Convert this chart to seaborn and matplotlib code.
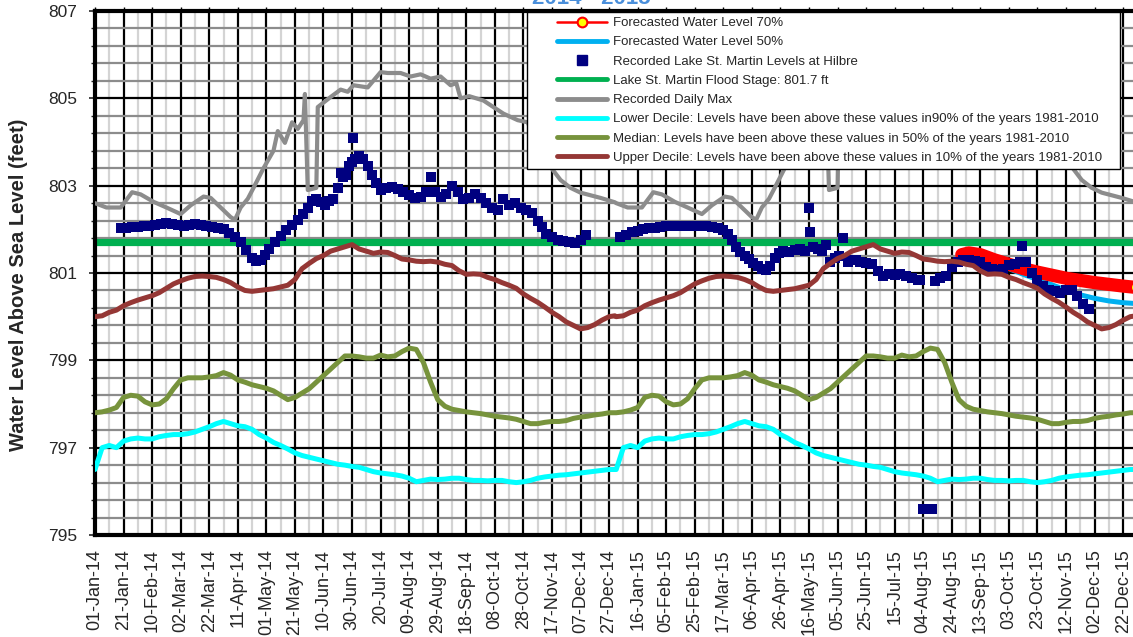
import pandas as pd
import matplotlib
matplotlib.use("Agg")
import matplotlib.pyplot as plt
import matplotlib.dates as mdates
from matplotlib.lines import Line2D
from matplotlib.legend_handler import HandlerLine2D
from matplotlib.ticker import FixedLocator, FormatStrFormatter
import seaborn as sns

# ---------------------------------------------------------------- data
START = pd.Timestamp("2014-01-01")
END = pd.Timestamp("2015-12-31")
YEARS = [2014, 2015]

# 1981-2010 statistics by day of year
CLIM_DOY = list(range(0, 361, 5)) + [364]
LOWER_DECILE = [
    796.5, 797.0, 797.05, 797.0, 797.15, 797.2, 797.22, 797.2, 797.2, 797.25,
    797.28, 797.3, 797.3, 797.32, 797.36, 797.42, 797.48, 797.55, 797.6, 797.55,
    797.5, 797.48, 797.42, 797.3, 797.22, 797.12, 797.05, 796.97, 796.88, 796.82,
    796.78, 796.74, 796.7, 796.66, 796.62, 796.6, 796.57, 796.55, 796.5, 796.45,
    796.42, 796.4, 796.38, 796.35, 796.3, 796.22, 796.25, 796.28, 796.27, 796.28,
    796.3, 796.3, 796.27, 796.25, 796.25, 796.24, 796.25, 796.25, 796.22, 796.2,
    796.22, 796.25, 796.3, 796.33, 796.35, 796.37, 796.38, 796.4, 796.42, 796.44,
    796.46, 796.48, 796.5, 796.5]
MEDIAN = [
    797.8, 797.82, 797.86, 797.92, 798.15, 798.2, 798.18, 798.05, 797.98, 798.0,
    798.12, 798.35, 798.55, 798.6, 798.6, 798.6, 798.62, 798.65, 798.72, 798.66,
    798.55, 798.5, 798.44, 798.4, 798.36, 798.3, 798.2, 798.1, 798.15, 798.25,
    798.35, 798.5, 798.65, 798.8, 798.95, 799.1, 799.1, 799.08, 799.05, 799.05,
    799.12, 799.08, 799.1, 799.2, 799.28, 799.25, 798.95, 798.5, 798.1, 797.95,
    797.88, 797.85, 797.82, 797.8, 797.78, 797.75, 797.72, 797.7, 797.68, 797.65,
    797.6, 797.55, 797.55, 797.58, 797.6, 797.6, 797.62, 797.67, 797.7, 797.72,
    797.75, 797.77, 797.8, 797.8]
UPPER_DECILE = [
    800.0, 800.02, 800.1, 800.15, 800.25, 800.32, 800.38, 800.43, 800.48, 800.55,
    800.65, 800.75, 800.82, 800.88, 800.92, 800.93, 800.92, 800.9, 800.85, 800.78,
    800.68, 800.6, 800.58, 800.6, 800.62, 800.64, 800.68, 800.72, 800.85, 801.1,
    801.22, 801.33, 801.4, 801.5, 801.55, 801.6, 801.65, 801.55, 801.5, 801.45,
    801.48, 801.47, 801.4, 801.32, 801.3, 801.27, 801.26, 801.27, 801.25, 801.2,
    801.17, 801.05, 800.97, 800.98, 800.97, 800.9, 800.85, 800.78, 800.72, 800.65,
    800.52, 800.42, 800.33, 800.22, 800.1, 800.0, 799.88, 799.8, 799.72, 799.75,
    799.82, 799.92, 800.0, 800.02]

# recorded daily maximum by day of year
DAILY_MAX_DOY = [0, 8, 18, 26, 32, 41, 50, 60, 67, 76,
                 81, 88, 95, 98, 102, 107, 111, 118, 125, 128,
                 133, 138, 142, 146, 147, 149, 155, 156, 165, 172,
                 177, 181, 191, 200, 205, 214, 221, 228, 235, 242,
                 249, 253, 256, 262, 272, 279, 286, 296, 303, 312,
                 319, 326, 333, 340, 354, 364]
DAILY_MAX = [802.6, 802.5, 802.5, 802.85, 802.8, 802.63, 802.5, 802.35, 802.55, 802.75,
             802.72, 802.5, 802.28, 802.22, 802.5, 802.7, 802.95, 803.4, 803.8, 804.25,
             803.98, 804.45, 804.3, 804.5, 805.1, 802.9, 802.95, 804.8, 805.03, 805.2,
             805.15, 805.3, 805.25, 805.6, 805.58, 805.58, 805.5, 805.55, 805.45, 805.5,
             805.3, 805.35, 805.0, 805.05, 804.95, 804.8, 804.65, 804.5, 804.45, 803.8,
             803.43, 803.13, 802.95, 802.84, 802.72, 802.62]

# Lake St. Martin at Hilbre, days after 1 Jan 2014
HILBRE_DAY = [
    18, 22, 26, 30, 34, 38, 42, 46, 50, 54, 58, 62, 66, 70, 74, 78, 82, 86, 90, 94,
    98, 102, 106, 110, 113, 116, 119, 122, 126, 130, 134, 138, 142, 146, 149, 152,
    155, 158, 161, 164, 167, 170, 172, 174, 176, 178, 180, 181, 182, 185, 188, 191,
    194, 197, 200, 204, 208, 212, 216, 220, 224, 228, 232, 235, 238, 242, 246, 250,
    254, 258, 262, 266, 270, 274, 278, 282, 286, 290, 294, 298, 302, 306, 310, 313,
    316, 320, 324, 328, 332, 336, 340, 344,
    368, 372, 376, 380, 384, 388, 392, 396, 400, 404, 408, 412, 416, 420, 424, 428,
    432, 436, 440, 443, 446, 449, 452, 455, 458, 461, 464, 467, 470, 473, 476, 479,
    482, 486, 490, 494, 497, 500, 501, 503, 506, 509, 512, 515, 518, 521, 524, 527,
    530, 533, 536, 540, 544, 548, 552, 556, 560, 564, 568, 572, 576, 578, 580, 583,
    586, 588, 592, 596, 600, 604, 608, 612, 616, 620, 624, 628, 632, 636, 640, 644,
    648, 649, 652, 656, 660, 664, 668, 672, 676, 680, 684, 688, 692, 696]
HILBRE_FT = [
    802.03, 802.04, 802.05, 802.06, 802.07, 802.08, 802.1, 802.13, 802.15, 802.12,
    802.1, 802.08, 802.1, 802.12, 802.1, 802.08, 802.06, 802.04, 802.0, 801.92,
    801.82, 801.7, 801.52, 801.35, 801.28, 801.3, 801.42, 801.55, 801.7, 801.85,
    801.98, 802.1, 802.22, 802.35, 802.5, 802.65, 802.7, 802.62, 802.55, 802.65,
    802.7, 802.95, 803.3, 803.2, 803.25, 803.45, 803.55, 804.1, 803.6, 803.68,
    803.6, 803.45, 803.25, 803.05, 802.9, 802.95, 802.97, 802.92, 802.85, 802.78,
    802.72, 802.75, 802.85, 803.2, 802.85, 802.75, 802.8, 803.0, 802.85, 802.7,
    802.72, 802.8, 802.72, 802.6, 802.5, 802.45, 802.7, 802.55, 802.6, 802.5,
    802.45, 802.37, 802.2, 802.05, 801.9, 801.82, 801.76, 801.74, 801.7, 801.68,
    801.75, 801.88,
    801.83, 801.88, 801.93, 801.97, 802.0, 802.02, 802.04, 802.06, 802.07, 802.08,
    802.08, 802.08, 802.08, 802.08, 802.08, 802.07, 802.06, 802.04, 801.99, 801.9,
    801.75, 801.6, 801.48, 801.4, 801.32, 801.22, 801.15, 801.1, 801.08, 801.15,
    801.35, 801.45, 801.5, 801.48, 801.53, 801.55, 801.5, 802.5, 801.95, 801.6,
    801.55, 801.5, 801.65, 801.25, 801.35, 801.4, 801.8, 801.25, 801.3, 801.3,
    801.25, 801.22, 801.2, 801.05, 800.92, 800.98, 800.95, 800.98, 800.92, 800.88,
    800.85, 800.85, 795.6, 795.6, 795.6, 800.82, 800.88, 800.92, 801.14, 801.25,
    801.3, 801.3, 801.28, 801.25, 801.14, 801.1, 801.07, 801.1, 801.18, 801.2,
    801.25, 801.62, 801.25, 801.0, 800.85, 800.7, 800.62, 800.58, 800.55, 800.6,
    800.62, 800.48, 800.28, 800.18]

# forecasts, days after 1 Jan 2014
FCST_DAY = [607, 612, 620, 630, 640, 650, 660, 670, 680, 690, 700, 710, 720, 729]
FCST_70 = [801.42, 801.46, 801.42, 801.3, 801.2, 801.1, 801.02, 800.95, 800.88,
           800.83, 800.78, 800.74, 800.7, 800.67]
FCST_50 = [801.42, 801.45, 801.38, 801.25, 801.1, 800.97, 800.85, 800.73, 800.61,
           800.5, 800.42, 800.36, 800.32, 800.3]

FLOOD_STAGE = 801.7

Y_TICKS = [795, 797, 799, 801, 803, 805, 807]

LABELS = [
    "Forecasted Water Level 70%",
    "Forecasted Water Level 50%",
    "Recorded Lake St. Martin Levels at Hilbre",
    "Lake St. Martin Flood Stage: 801.7 ft",
    "Recorded Daily Max",
    "Lower Decile: Levels have been above these values in90% of the years 1981-2010",
    "Median: Levels have been above these values in 50% of the years 1981-2010",
    "Upper Decile: Levels have been above these values in 10% of the years 1981-2010",
]

# ---------------------------------------------------------------- colours
C_F70, C_F50 = "#FF0000", "#00B0F0"
C_OBS, C_FLOOD, C_MAX = "#000080", "#00B050", "#8C8C8C"
C_LOW, C_MED, C_UP = "#00FFFF", "#77933C", "#953735"


def by_year(doys, values):
    """Repeat a day-of-year series for each plotted year."""
    dates, vals = [], []
    for yr in YEARS:
        base = pd.Timestamp(f"{yr}-01-01")
        dates += [base + pd.Timedelta(days=d) for d in doys]
        vals += list(values)
    return pd.DataFrame({"date": dates, "ft": vals})


def after_start(days, values):
    return pd.DataFrame({"date": [START + pd.Timedelta(days=d) for d in days],
                         "ft": values})


sns.set_style("white")
plt.rcParams["font.family"] = ["Liberation Sans", "DejaVu Sans"]

W, H = 1133, 637
fig = plt.figure(figsize=(W / 100, H / 100), dpi=100)
ax = fig.add_axes([95 / W, 102 / H, 1041 / W, 524 / H])

ax.axhline(FLOOD_STAGE, color=C_FLOOD, lw=5.2, zorder=2.5)

sns.lineplot(data=by_year(DAILY_MAX_DOY, DAILY_MAX), x="date", y="ft", ax=ax,
             color=C_MAX, lw=3.0, zorder=3, legend=False)
sns.lineplot(data=by_year(CLIM_DOY, LOWER_DECILE), x="date", y="ft", ax=ax,
             color=C_LOW, lw=3.6, zorder=3, legend=False)
sns.lineplot(data=by_year(CLIM_DOY, MEDIAN), x="date", y="ft", ax=ax,
             color=C_MED, lw=3.6, zorder=3, legend=False)

f50 = after_start(FCST_DAY, FCST_50)
f70 = after_start(FCST_DAY, FCST_70)
sns.lineplot(data=f50, x="date", y="ft", ax=ax, color=C_F50, lw=3.6,
             zorder=3.5, legend=False, solid_capstyle="round")
sns.lineplot(data=f70, x="date", y="ft", ax=ax, color=C_F70, lw=9.5,
             zorder=3.6, legend=False, solid_capstyle="round")
ax.plot(f70["date"].iloc[-1], f70["ft"].iloc[-1], "o", ms=8, mfc="#FFFF00",
        mec=C_F70, mew=1.5, zorder=3.7)

obs = after_start(HILBRE_DAY, HILBRE_FT)
sns.scatterplot(data=obs, x="date", y="ft", ax=ax, marker="s", s=46,
                color=C_OBS, linewidth=0, zorder=4, legend=False)

sns.lineplot(data=by_year(CLIM_DOY, UPPER_DECILE), x="date", y="ft", ax=ax,
             color=C_UP, lw=3.6, zorder=4.5, legend=False)

# ---------------------------------------------------------------- axes
ax.set_xlim(START, END)
ax.set_ylim(795, 807)
major_dates = [START + pd.Timedelta(days=20 * k) for k in range(37)]
minor_dates = [START + pd.Timedelta(days=10 * k) for k in range(73)]
ax.xaxis.set_major_locator(FixedLocator(mdates.date2num(major_dates)))
ax.xaxis.set_minor_locator(FixedLocator(mdates.date2num(minor_dates)))
ax.xaxis.set_major_formatter(mdates.DateFormatter("%d-%b-%y"))
ax.yaxis.set_major_locator(FixedLocator(Y_TICKS))
ax.yaxis.set_minor_locator(FixedLocator([795 + 0.4 * k for k in range(31)]))
ax.yaxis.set_major_formatter(FormatStrFormatter("%d"))

ax.set_axisbelow(True)
ax.grid(which="major", axis="both", color="black", lw=1.6)
ax.grid(which="minor", axis="x", color="#D4D4D4", lw=1.6)
ax.grid(which="minor", axis="y", color="#8C8C8C", lw=1.6)

ax.tick_params(axis="x", which="major", bottom=False, top=True, length=3,
               width=1, color="black", labelsize=13, labelrotation=90, pad=7)
ax.tick_params(axis="x", which="minor", bottom=False, top=False)
ax.tick_params(axis="y", which="major", left=True, length=4, width=1.2,
               labelsize=12.5, pad=9)
ax.tick_params(axis="y", which="minor", left=True, length=3, width=1)
ax.set_xlabel("")
ax.set_ylabel("")
for side in ["left", "bottom", "top", "right"]:
    ax.spines[side].set_visible(True)
    ax.spines[side].set_color("black")
    ax.spines[side].set_linewidth(3)

fig.text(18.5 / W, 1 - 285 / H, "Water Level Above Sea Level (feet)",
         rotation=90, ha="center", va="center", fontsize=14.5,
         fontweight="bold")
fig.text(591 / W, 1 - 4 / H, "2014 - 2015", ha="center", va="baseline",
         fontsize=16, fontweight="bold", color="#4A8FDB")

# ---------------------------------------------------------------- legend
handles = [
    Line2D([], [], color=C_F70, lw=1.8, marker="o", ms=7, mfc="#FFFF00",
           mec=C_F70, mew=1.5),
    Line2D([], [], color=C_F50, lw=3.5),
    Line2D([], [], ls="none", marker="s", ms=6.5, color=C_OBS),
    Line2D([], [], color=C_FLOOD, lw=3.5),
    Line2D([], [], color=C_MAX, lw=3.5),
    Line2D([], [], color=C_LOW, lw=3.5),
    Line2D([], [], color=C_MED, lw=3.5),
    Line2D([], [], color=C_UP, lw=3.5),
]
leg = fig.legend(handles, LABELS, loc="upper left",
                 bbox_to_anchor=(527 / W, 0.3, 593 / W, 1 - 12 / H - 0.3),
                 bbox_transform=fig.transFigure, mode="expand",
                 borderaxespad=0, borderpad=0.38, labelspacing=0.53,
                 handlelength=5.7, handletextpad=0.45, fontsize=9.5,
                 handler_map={Line2D: HandlerLine2D(xpad=1.9)},
                 frameon=True, fancybox=False, framealpha=1,
                 edgecolor="black")
leg.get_frame().set_linewidth(1.0)

fig.savefig("out.png", dpi=100)
